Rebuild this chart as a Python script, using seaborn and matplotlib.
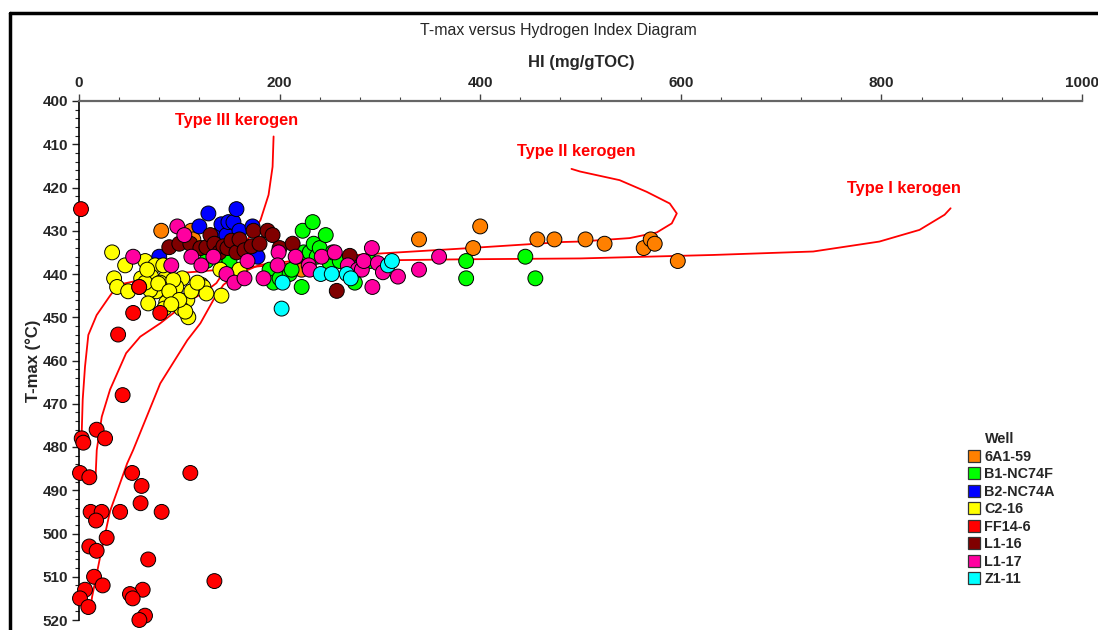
import matplotlib
matplotlib.use("Agg")
import matplotlib.pyplot as plt
import numpy as np
import pandas as pd
import seaborn as sns
from matplotlib.lines import Line2D
from matplotlib.ticker import MultipleLocator

# ---- samples per well: hydrogen index (mg/gTOC) and T-max (°C) ----
wells = ["6A1-59", "B1-NC74F", "B2-NC74A", "C2-16", "FF14-6", "L1-16", "L1-17", "Z1-11"]
well_colors = ["#FF8000", "#00FF00", "#0000FF", "#FFFF00", "#FF0000", "#800000", "#FF00A0", "#00FFFF"]

hi_6a1_59 = [82, 112, 114, 154, 222, 339, 393, 400, 457, 474, 505, 524, 563, 570, 574, 597]
tmax_6a1_59 = [430, 430, 432, 429, 439, 432, 434, 429, 432, 432, 432, 433, 434, 432, 433, 437]

hi_b1_nc74f = [127, 137, 150, 190, 194, 200, 210, 212, 217, 222, 223, 224, 230, 233, 234,
               237, 240, 246, 250, 253, 260, 270, 275, 290, 386, 386, 445, 455]
tmax_b1_nc74f = [437, 436, 437, 439, 442, 441, 440, 439, 436, 443, 430, 435, 435, 428, 433,
                 436, 434, 431, 437.5, 435, 437, 438, 442, 437, 437, 441, 436, 441]

hi_b2_nc74a = [80, 120, 129, 141, 142, 147, 149, 154, 157, 160, 165, 173, 178]
tmax_b2_nc74a = [436, 429, 426, 430.5, 428.5, 431, 428, 428, 425, 430, 434, 429, 436]

hi_c2_16 = [33, 46, 35, 38, 49, 66, 76, 62, 86, 103, 122, 124, 142, 141, 160, 109, 96, 108, 87, 77,
            71, 69, 102, 106, 97, 72, 66, 81, 94, 127, 79, 90, 100, 68, 60, 85, 112, 118, 84, 92]
tmax_c2_16 = [435, 438, 441, 443, 444, 437, 438, 441, 441, 441, 442.5, 443, 445, 439, 439, 450, 445, 446, 446.6, 444,
              443.7, 446.8, 448, 448.7, 443, 440.6, 442, 442, 441.4, 444.5, 442.2, 444, 446, 439, 443, 448, 444, 442, 438, 447]

hi_ff14_6 = [2, 60, 54, 81, 39, 43.5, 2.7, 4.3, 17.6, 26, 1, 10.3, 53, 111, 62.4, 61.4, 11.6, 22.6,
             41, 82.4, 17, 27.6, 10.3, 17.6, 69, 15, 135, 23.6, 6, 63.5, 50.8, 53.5, 1, 9.3, 65.8, 60.2]
tmax_ff14_6 = [425, 443, 449, 449, 454, 468, 478, 479, 476, 478, 486, 487, 486, 486, 489, 493, 495, 495,
               495, 495, 497, 501, 503, 504, 506, 510, 511, 512, 513, 513, 514, 515, 515, 517, 519, 520]

hi_l1_16 = [90, 100, 111, 121, 127, 131, 135, 140, 144, 148, 152, 157, 160, 165, 172, 174, 180,
            188, 193, 200, 213, 270, 257]
tmax_l1_16 = [433.8, 433, 433, 434, 433.8, 431, 433, 435, 433.6, 434, 432.3, 435, 432, 434.5, 433.6,
              430, 433, 430, 431, 434, 433, 435.8, 443.9]

hi_l1_17 = [54, 92, 98, 105, 112, 122, 134, 147, 155, 165, 168, 184, 199, 198, 216, 229, 230, 242,
            255, 268, 278, 282, 284, 292, 298, 303, 318, 292.5, 339, 359]
tmax_l1_17 = [436, 438, 429, 431, 436, 438, 436, 440, 442, 441, 437, 441, 435, 438, 436, 438, 439, 436,
              435, 438, 439, 439, 437, 434, 437.5, 439.6, 440.6, 443, 439, 436]

hi_z1_11 = [202, 203, 241, 252, 267, 271, 308, 312]
tmax_z1_11 = [448, 442, 440, 440, 440, 441, 438, 437]

# ---- kerogen maturation pathways ----
type_i_hi = [869, 863, 838, 798, 732, 632, 500, 383, 283, 217, 167, 100, 61, 39, 31, 17.6, 9.3, 6, 3.7, 2.7, 2.7]
type_i_tmax = [424.8, 426.3, 429.8, 432.5, 434.8, 435.6, 436.4, 436.6, 436.9, 437.4, 438.5, 439.8, 441.4,
               442.5, 445, 449.5, 454.1, 461.4, 469, 476.8, 478]

type_ii_hi = [491, 499.5, 539, 566, 589, 596, 591, 576, 549, 499.5, 483, 383, 283, 220, 180, 157, 144, 134,
              121, 108, 81, 54, 48, 31, 21, 13, 11.7]
type_ii_tmax = [415.7, 416.3, 418.3, 421, 423.7, 426, 428.3, 430.4, 431.7, 432.5, 432.6, 434.1, 435.5, 436.8,
                437.9, 440.2, 442.5, 446, 451.4, 455.3, 465.3, 480.7, 483.8, 494.8, 505.5, 514.7, 517]

type_iii_hi = [194, 193, 189, 181, 173, 161, 150, 137, 124, 111, 96, 81, 61, 47, 31, 22.7, 17.7, 16.5]
type_iii_tmax = [408.2, 415.2, 421.7, 427.5, 430.6, 434, 437.5, 442.1, 444.4, 446, 448.7, 451.4, 454.5,
                 458.3, 466.7, 473, 480.7, 487]

series = [
    (hi_6a1_59, tmax_6a1_59), (hi_b1_nc74f, tmax_b1_nc74f), (hi_b2_nc74a, tmax_b2_nc74a),
    (hi_c2_16, tmax_c2_16), (hi_ff14_6, tmax_ff14_6), (hi_l1_16, tmax_l1_16),
    (hi_l1_17, tmax_l1_17), (hi_z1_11, tmax_z1_11),
]
df = pd.concat(
    [pd.DataFrame({"HI": h, "Tmax": t, "Well": w}) for w, (h, t) in zip(wells, series)],
    ignore_index=True,
)

sns.set_style("white")
plt.rcParams["font.family"] = ["Liberation Sans", "DejaVu Sans"]

W, H = 1098, 630
fig = plt.figure(figsize=(W / 100, H / 100), dpi=100)
ax = fig.add_axes([79 / W, 1 - 620 / H, (1082 - 79) / W, (620 - 101) / H])

# kerogen type curves
for xs, ys in [(type_i_hi, type_i_tmax), (type_ii_hi, type_ii_tmax), (type_iii_hi, type_iii_tmax)]:
    sns.lineplot(x=xs, y=ys, sort=False, estimator=None, color="red", lw=1.3, ax=ax, zorder=2)

palette = dict(zip(wells, well_colors))
sns.scatterplot(data=df, x="HI", y="Tmax", hue="Well", hue_order=wells, palette=palette,
                s=115, edgecolor="black", linewidth=0.7, legend=False, ax=ax, zorder=3, clip_on=False)

ax.set_xlim(0, 1000)
ax.set_ylim(520, 400)
ax.set_xlabel("")
ax.set_ylabel("")

ax.xaxis.tick_top()
ax.set_xticks(np.arange(0, 1001, 200))
ax.xaxis.set_minor_locator(MultipleLocator(40))
ax.set_yticks(np.arange(400, 521, 10))
ax.yaxis.set_minor_locator(MultipleLocator(2))
ax.tick_params(axis="x", which="both", top=True, bottom=False, labeltop=True, labelbottom=False,
               direction="out", color="#444444")
ax.tick_params(axis="y", which="both", left=True, right=False, direction="out", color="#222222")
ax.tick_params(which="major", length=5, width=1, pad=3, labelsize=11)
ax.tick_params(which="minor", length=3, width=0.8)
for lab in ax.get_xticklabels() + ax.get_yticklabels():
    lab.set_fontweight("bold")

for side in ["right", "bottom"]:
    ax.spines[side].set_visible(False)
ax.spines["top"].set_color("#666666")
ax.spines["top"].set_linewidth(1.6)
ax.spines["left"].set_color("black")
ax.spines["left"].set_linewidth(1.2)

# curve labels
label_style = dict(color="red", fontsize=11.8, fontweight="bold", ha="center", va="center")
ax.text(157, 404.6, "Type III kerogen", **label_style)
ax.text(496, 411.6, "Type II kerogen", **label_style)
ax.text(822, 420.3, "Type I kerogen", **label_style)

# titles
fig.text(558 / W, 1 - 30 / H, "T-max versus Hydrogen Index Diagram", fontsize=11.4, ha="center", va="center")
fig.text(581 / W, 1 - 62 / H, "HI (mg/gTOC)", fontsize=12, fontweight="bold", ha="center", va="center")
fig.text(33 / W, 1 - 361 / H, "T-max (°C)", fontsize=12, fontweight="bold", ha="center", va="center",
         rotation=90)

# legend
handles = [Line2D([], [], ls="none", marker="s", markersize=9, markerfacecolor=c,
                  markeredgecolor="#333333", markeredgewidth=0.9) for c in well_colors]
ax.legend(handles, wells, loc="upper left", bbox_to_anchor=(967 / W, 1 - 450 / H),
          bbox_transform=fig.transFigure, frameon=False, borderaxespad=0, borderpad=0,
          handlelength=0.9, handletextpad=0.3, labelspacing=0.24,
          prop={"weight": "bold", "size": 10.4})
fig.text(985 / W, 1 - 439 / H, "Well", fontsize=10.4, fontweight="bold", ha="left", va="center")

# outer frame
fig.add_artist(Line2D([10 / W, 10 / W], [0, 1 - 13 / H], transform=fig.transFigure, color="black", lw=2.5))
fig.add_artist(Line2D([10 / W, 1], [1 - 13 / H, 1 - 13 / H], transform=fig.transFigure, color="black", lw=2.5))

fig.savefig("out.png", dpi=100)
